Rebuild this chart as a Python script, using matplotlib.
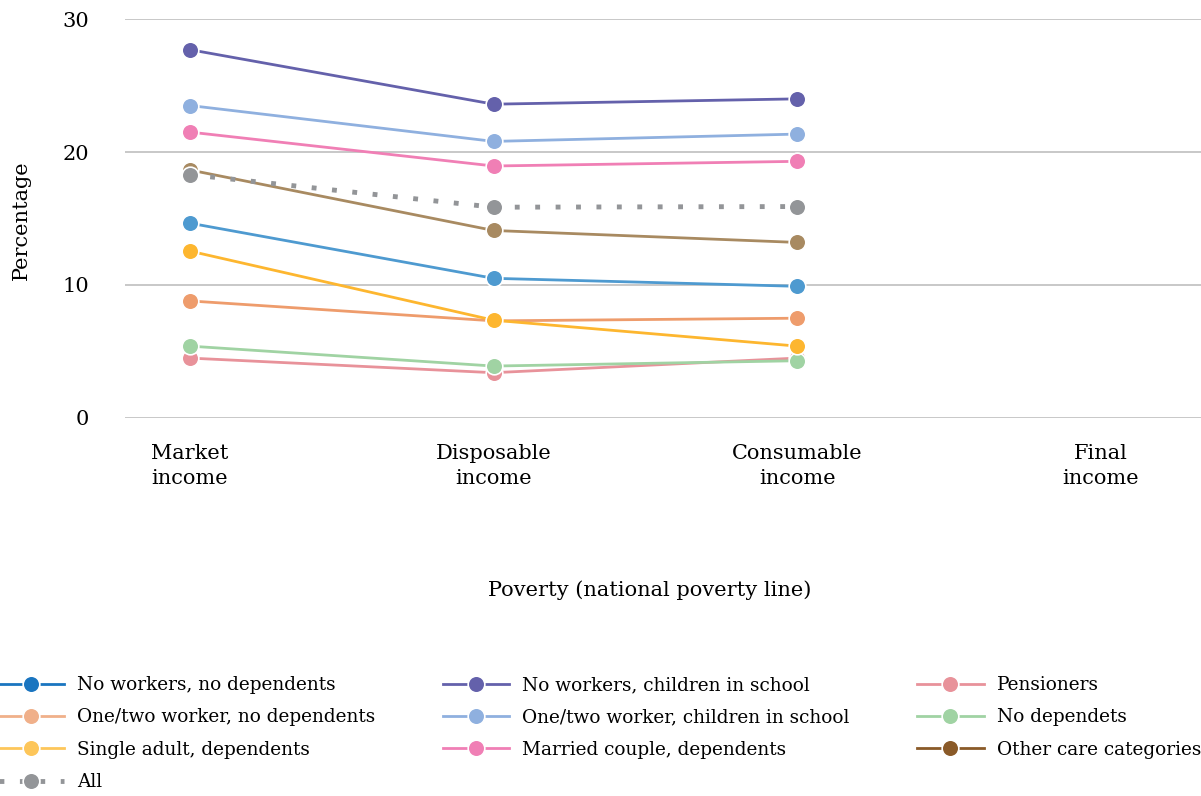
import matplotlib
matplotlib.use("Agg")
import matplotlib.pyplot as plt
from matplotlib.lines import Line2D

plt.rcParams["font.family"] = ["DejaVu Serif"]

categories = ["Market\nincome", "Disposable\nincome", "Consumable\nincome", "Final\nincome"]

# series in drawing order (later ones sit on top)
names = ["No workers, no dependents", "No workers, children in school", "Pensioners",
         "One/two worker, no dependents", "One/two worker, children in school",
         "No dependets", "Single adult, dependents", "Married couple, dependents",
         "Other care categories", "All"]
values = {
    "No workers, no dependents":          [14.65, 10.5, 9.9],
    "No workers, children in school":     [27.7, 23.6, 24.0],
    "Pensioners":                         [4.5, 3.4, 4.5],
    "One/two worker, no dependents":      [8.8, 7.3, 7.5],
    "One/two worker, children in school": [23.5, 20.8, 21.35],
    "No dependets":                       [5.4, 3.9, 4.3],
    "Single adult, dependents":           [12.55, 7.35, 5.4],
    "Married couple, dependents":         [21.5, 18.95, 19.3],
    "Other care categories":              [18.65, 14.1, 13.2],
    "All":                                [18.3, 15.85, 15.9],
}
line_colors = {
    "No workers, no dependents": "#4e9ad0",
    "No workers, children in school": "#6461ab",
    "Pensioners": "#e8929a",
    "One/two worker, no dependents": "#ee9c6c",
    "One/two worker, children in school": "#8fb0df",
    "No dependets": "#a0d3a3",
    "Single adult, dependents": "#fdb62f",
    "Married couple, dependents": "#f07fb5",
    "Other care categories": "#a88a61",
    "All": "#939598",
}
legend_colors = dict(line_colors)
legend_colors.update({
    "No workers, no dependents": "#1a75c0",
    "One/two worker, no dependents": "#f0b08a",
    "Single adult, dependents": "#fdc65a",
    "Other care categories": "#8a5a28",
})
legend_order = ["No workers, no dependents", "One/two worker, no dependents",
                "Single adult, dependents", "All",
                "No workers, children in school", "One/two worker, children in school",
                "Married couple, dependents",
                "Pensioners", "No dependets", "Other care categories"]

fig = plt.figure(figsize=(12.01, 7.96), dpi=100)
ax = fig.add_axes([0.104, 0.475, 0.896, 0.501])

xs = list(range(len(categories)))
for k, n in enumerate(names):
    v = values[n]
    c = line_colors[n]
    if n == "All":
        ax.plot(xs[:len(v)], v, color=c, lw=3.5, dashes=(1, 3.2),
                dash_capstyle="butt", zorder=3 + k, clip_on=False)
    else:
        ax.plot(xs[:len(v)], v, color=c, lw=2.0, zorder=3 + k, clip_on=False)
    ax.plot(xs[:len(v)], v, ls="none", marker="o", ms=12, mfc=c,
            mec="white", mew=1.2, zorder=3 + k, clip_on=False)

ax.set_ylim(0, 30)
ax.set_xlim(-0.214, 3.33)
ax.set_yticks([0, 10, 20, 30])
ax.set_xticks(xs)
ax.set_xticklabels(categories, fontsize=15, linespacing=1.4)
ax.tick_params(axis="y", length=0, pad=26, labelsize=15)
ax.tick_params(axis="x", length=0, pad=19)
ax.grid(axis="y", color="#bfbfbf", lw=1.2)
ax.set_axisbelow(True)
for s in ax.spines.values():
    s.set_visible(False)

fig.text(0.018, 0.724, "Percentage", rotation=90, fontsize=15,
         ha="center", va="center")
fig.text(0.541, 0.258, "Poverty (national poverty line)", fontsize=15,
         ha="center", va="center")

handles = []
for n in legend_order:
    c = legend_colors[n]
    if n == "All":
        h = Line2D([], [], color=c, lw=3.5, dashes=(1, 3.2), dash_capstyle="butt",
                   marker="o", ms=12, mfc=c, mec="white", mew=1.2)
    else:
        h = Line2D([], [], color=c, lw=2.0, marker="o", ms=12, mfc=c,
                   mec="white", mew=1.2)
    handles.append(h)

fig.legend(handles, legend_order, ncol=3, loc="upper left",
           bbox_to_anchor=(-0.008, 0.16), frameon=False, fontsize=13.3,
           handlelength=3.6, handletextpad=0.7, columnspacing=3.65,
           labelspacing=0.78, borderaxespad=0)

fig.savefig("out.png", dpi=100)
